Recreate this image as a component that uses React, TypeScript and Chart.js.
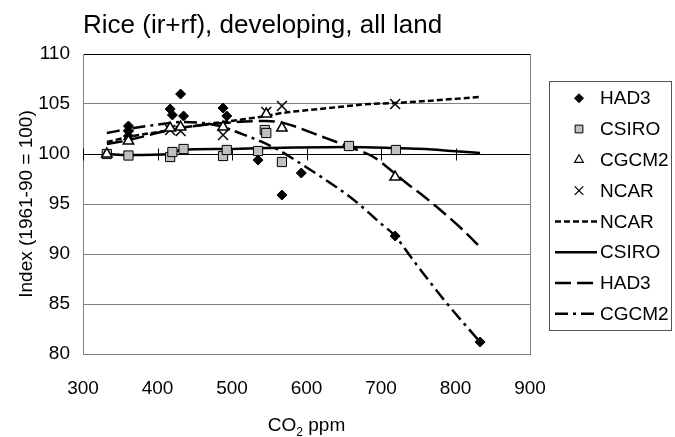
import React, { useEffect, useRef } from 'react';
import { Chart, registerables } from 'chart.js';
import { drawPoint } from 'chart.js/helpers';

Chart.register(...registerables);

const FONT = "'Liberation Sans', Arial, Helvetica, sans-serif";

const chartTitle = 'Rice (ir+rf), developing, all land';
const yAxisTitle = 'Index (1961-90 = 100)';
const xAxisTitleMain = 'CO';
const xAxisTitleSub = '2';
const xAxisTitleRest = ' ppm';

const xMin = 300;
const xMax = 900;
const xStep = 100;
const yMin = 80;
const yMax = 110;
const yStep = 5;
const axisCross = 100;

// Scatter series (markers)
const had3PtsX = [361, 361, 361, 417, 420, 431, 435, 488, 493, 535, 567, 593, 719, 833];
const had3PtsY = [102.8, 102.3, 101.8, 104.5, 103.9, 106.0, 103.8, 104.6, 103.8, 99.4, 95.9, 98.1, 91.8, 81.2];

const csiroPtsX = [332, 361, 417, 420, 435, 488, 493, 535, 544, 546, 567, 657, 720];
const csiroPtsY = [100, 99.85, 99.7, 100.2, 100.5, 99.8, 100.4, 100.3, 102.4, 102.1, 99.2, 100.8, 100.4];

const cgcm2PtsX = [332, 361, 417, 431, 488, 546, 567, 719];
const cgcm2PtsY = [100, 101.3, 102.6, 102.7, 102.7, 104.0, 102.6, 97.7];

const ncarPtsX = [361, 417, 431, 488, 546, 567, 719];
const ncarPtsY = [101.9, 102.4, 102.3, 101.9, 104.2, 104.8, 105.0];

// Fitted lines
const ncarLineX = [332, 361, 417, 431, 488, 546, 567, 618, 685, 719, 833];
const ncarLineY = [101.2, 101.7, 102.4, 102.6, 103.2, 103.8, 104.1, 104.5, 105.0, 105.1, 105.7];

const csiroLineX = [332, 361, 417, 431, 488, 546, 657, 719, 760, 795, 833];
const csiroLineY = [100.0, 99.9, 100.0, 100.4, 100.5, 100.6, 100.7, 100.6, 100.5, 100.3, 100.1];

const had3LineX = [332, 361, 417, 431, 488, 546, 569, 622, 658, 690, 708, 734, 757, 775, 810, 833];
const had3LineY = [101.0, 101.4, 102.4, 102.6, 103.1, 103.3, 103.1, 101.7, 100.7, 99.7, 98.7, 97.1, 95.8, 94.7, 92.4, 90.7];

const cgcm2LineX = [332, 361, 417, 431, 460, 488, 510, 534, 560, 593, 622, 662, 699, 719, 743, 788, 833];
const cgcm2LineY = [102.1, 102.5, 103.1, 103.2, 103.1, 102.7, 102.1, 101.4, 100.5, 99.0, 97.6, 95.5, 93.1, 91.8, 89.4, 85.1, 81.2];

const toPts = (xs: number[], ys: number[]) => xs.map((x, i) => ({ x, y: ys[i] }));

type LegendEntry = {
  label: string;
  kind: 'point' | 'line';
  pointStyle?: string;
  radius?: number;
  fill?: string;
  stroke?: string;
  borderWidth?: number;
  dash?: number[];
  lineWidth?: number;
};

const overlayPlugin = {
  id: 'overlay',
  beforeDatasetsDraw(chart: any) {
    const { ctx, chartArea, scales } = chart;
    const ys = scales.y.getPixelForValue(axisCross);
    const yp = Math.round(ys) + 0.5;
    ctx.save();
    ctx.strokeStyle = '#000';
    ctx.lineWidth = 1;
    ctx.beginPath();
    ctx.moveTo(chartArea.left, yp);
    ctx.lineTo(chartArea.right, yp);
    for (let v = xMin; v <= xMax; v += xStep) {
      const xp = Math.round(scales.x.getPixelForValue(v)) + 0.5;
      ctx.moveTo(xp, yp - 6);
      ctx.lineTo(xp, yp + 6);
    }
    ctx.stroke();
    ctx.restore();
  },
  afterDraw(chart: any) {
    const { ctx, chartArea } = chart;
    ctx.save();
    // right border of plot area
    ctx.strokeStyle = '#808080';
    ctx.lineWidth = 1;
    ctx.beginPath();
    const rx = Math.round(chartArea.right) + 0.5;
    ctx.moveTo(rx, chartArea.top);
    ctx.lineTo(rx, chartArea.bottom);
    ctx.stroke();

    // Title
    ctx.fillStyle = '#000';
    ctx.font = `26px ${FONT}`;
    ctx.textAlign = 'left';
    ctx.textBaseline = 'alphabetic';
    ctx.fillText(chartTitle, chartArea.left, 33);

    // X axis title with subscript
    const cx = (chartArea.left + chartArea.right) / 2;
    ctx.font = `19px ${FONT}`;
    const w1 = ctx.measureText(xAxisTitleMain).width;
    const w3 = ctx.measureText(xAxisTitleRest).width;
    ctx.font = `12px ${FONT}`;
    const w2 = ctx.measureText(xAxisTitleSub).width;
    let sx = cx - (w1 + w2 + w3) / 2;
    const base = 431;
    ctx.font = `19px ${FONT}`;
    ctx.fillText(xAxisTitleMain, sx, base);
    sx += w1;
    ctx.font = `12px ${FONT}`;
    ctx.fillText(xAxisTitleSub, sx, base + 5);
    sx += w2;
    ctx.font = `19px ${FONT}`;
    ctx.fillText(xAxisTitleRest, sx, base);

    // Y axis title
    ctx.save();
    ctx.translate(27, (chartArea.top + chartArea.bottom) / 2);
    ctx.rotate(-Math.PI / 2);
    ctx.textAlign = 'center';
    ctx.textBaseline = 'middle';
    ctx.font = `19px ${FONT}`;
    ctx.fillText(yAxisTitle, 0, 0);
    ctx.restore();

    // Legend
    const entries: LegendEntry[] = chart.options.plugins.overlay.entries;
    const boxL = 549.5, boxT = 81.5, boxW = 122, boxH = 249;
    ctx.strokeStyle = '#555';
    ctx.lineWidth = 1;
    ctx.setLineDash([]);
    ctx.strokeRect(boxL, boxT, boxW, boxH);
    const y0 = 98.2;
    const dy = 30.8;
    entries.forEach((e, i) => {
      const y = y0 + dy * i;
      if (e.kind === 'point') {
        ctx.save();
        ctx.fillStyle = e.fill || '#000';
        ctx.strokeStyle = e.stroke || '#000';
        ctx.lineWidth = e.borderWidth || 1;
        drawPoint(ctx, { pointStyle: e.pointStyle as any, radius: e.radius || 5, rotation: 0, borderWidth: e.borderWidth || 1 } as any, 579, y);
        ctx.restore();
      } else {
        ctx.save();
        ctx.strokeStyle = '#000';
        ctx.lineWidth = e.lineWidth || 2.5;
        ctx.setLineDash(e.dash || []);
        ctx.beginPath();
        ctx.moveTo(555, y);
        ctx.lineTo(597, y);
        ctx.stroke();
        ctx.restore();
      }
      ctx.fillStyle = '#000';
      ctx.font = `19px ${FONT}`;
      ctx.textAlign = 'left';
      ctx.textBaseline = 'middle';
      ctx.fillText(e.label, 600, y + 1);
    });
    ctx.restore();
  },
};

export default function App() {
  const ref = useRef<HTMLCanvasElement | null>(null);

  useEffect(() => {
    if (!ref.current) return;
    Chart.defaults.font.family = FONT;
    Chart.defaults.color = '#000';

    const ncarDash = [6, 3];
    const had3Dash = [16, 6];
    const cgcm2Dash = [13, 5, 3, 5];

    const legendEntries: LegendEntry[] = [
      { label: 'HAD3', kind: 'point', pointStyle: 'rectRot', radius: 4.5, fill: '#000', stroke: '#000', borderWidth: 1 },
      { label: 'CSIRO', kind: 'point', pointStyle: 'rect', radius: 5.5, fill: '#c0c0c0', stroke: '#000', borderWidth: 1 },
      { label: 'CGCM2', kind: 'point', pointStyle: 'triangle', radius: 5, fill: '#fff', stroke: '#000', borderWidth: 1.2 },
      { label: 'NCAR', kind: 'point', pointStyle: 'crossRot', radius: 6, fill: '#000', stroke: '#000', borderWidth: 1.3 },
      { label: 'NCAR', kind: 'line', dash: ncarDash, lineWidth: 2.5 },
      { label: 'CSIRO', kind: 'line', dash: [], lineWidth: 2.5 },
      { label: 'HAD3', kind: 'line', dash: had3Dash, lineWidth: 2.5 },
      { label: 'CGCM2', kind: 'line', dash: cgcm2Dash, lineWidth: 2.5 },
    ];

    const lineDs = (label: string, xs: number[], ys: number[], dash: number[]) => ({
      label,
      data: toPts(xs, ys),
      showLine: true,
      borderColor: '#000',
      backgroundColor: '#000',
      borderWidth: 2.5,
      borderDash: dash,
      pointRadius: 0,
      pointHoverRadius: 0,
      cubicInterpolationMode: 'monotone' as const,
      order: 2,
    });

    const chart = new Chart(ref.current, {
      type: 'scatter',
      data: {
        datasets: [
          {
            label: 'HAD3',
            data: toPts(had3PtsX, had3PtsY),
            pointStyle: 'rectRot',
            pointRadius: 5,
            backgroundColor: '#000',
            borderColor: '#000',
            borderWidth: 1,
            order: 1,
          },
          {
            label: 'CSIRO',
            data: toPts(csiroPtsX, csiroPtsY),
            pointStyle: 'rect',
            pointRadius: 6.5,
            backgroundColor: '#c0c0c0',
            borderColor: '#000',
            borderWidth: 1,
            order: 1,
          },
          {
            label: 'CGCM2',
            data: toPts(cgcm2PtsX, cgcm2PtsY),
            pointStyle: 'triangle',
            pointRadius: 6,
            backgroundColor: '#fff',
            borderColor: '#000',
            borderWidth: 1.5,
            order: 0,
          },
          {
            label: 'NCAR',
            data: toPts(ncarPtsX, ncarPtsY),
            pointStyle: 'crossRot',
            pointRadius: 7,
            backgroundColor: '#000',
            borderColor: '#000',
            borderWidth: 1.5,
            order: 0,
          },
          lineDs('NCAR', ncarLineX, ncarLineY, ncarDash),
          lineDs('CSIRO', csiroLineX, csiroLineY, []),
          lineDs('HAD3', had3LineX, had3LineY, had3Dash),
          lineDs('CGCM2', cgcm2LineX, cgcm2LineY, cgcm2Dash),
        ],
      },
      options: {
        responsive: false,
        animation: false,
        devicePixelRatio: 1,
        layout: { padding: { top: 54, right: 145, left: 0, bottom: 0 } },
        plugins: {
          legend: { display: false },
          title: { display: false },
          tooltip: { enabled: false },
          overlay: { entries: legendEntries },
        } as any,
        scales: {
          x: {
            type: 'linear',
            min: xMin,
            max: xMax,
            ticks: { stepSize: xStep, font: { size: 19 }, color: '#000', padding: 23, maxRotation: 0 },
            grid: { display: false, drawTicks: false },
            border: { display: true, color: '#808080', width: 1 },
            afterFit: (s: any) => { s.height = 83; },
          },
          y: {
            type: 'linear',
            min: yMin,
            max: yMax,
            ticks: { stepSize: yStep, font: { size: 19 }, color: '#000', padding: 13 },
            grid: {
              drawTicks: false,
              lineWidth: 1,
              color: (c: any) => (c.tick && (c.tick.value === 110 || c.tick.value === 100) ? '#000' : '#808080'),
            },
            border: { display: true, color: '#808080', width: 1 },
            afterFit: (s: any) => { s.width = 83; },
          },
        },
      },
      plugins: [overlayPlugin],
    });

    return () => chart.destroy();
  }, []);

  return (
    <div style={{ position: 'absolute', left: 0, top: 0, width: 675, height: 437, background: '#fff' }}>
      <canvas ref={ref} width={675} height={437} style={{ display: 'block' }} />
    </div>
  );
}
